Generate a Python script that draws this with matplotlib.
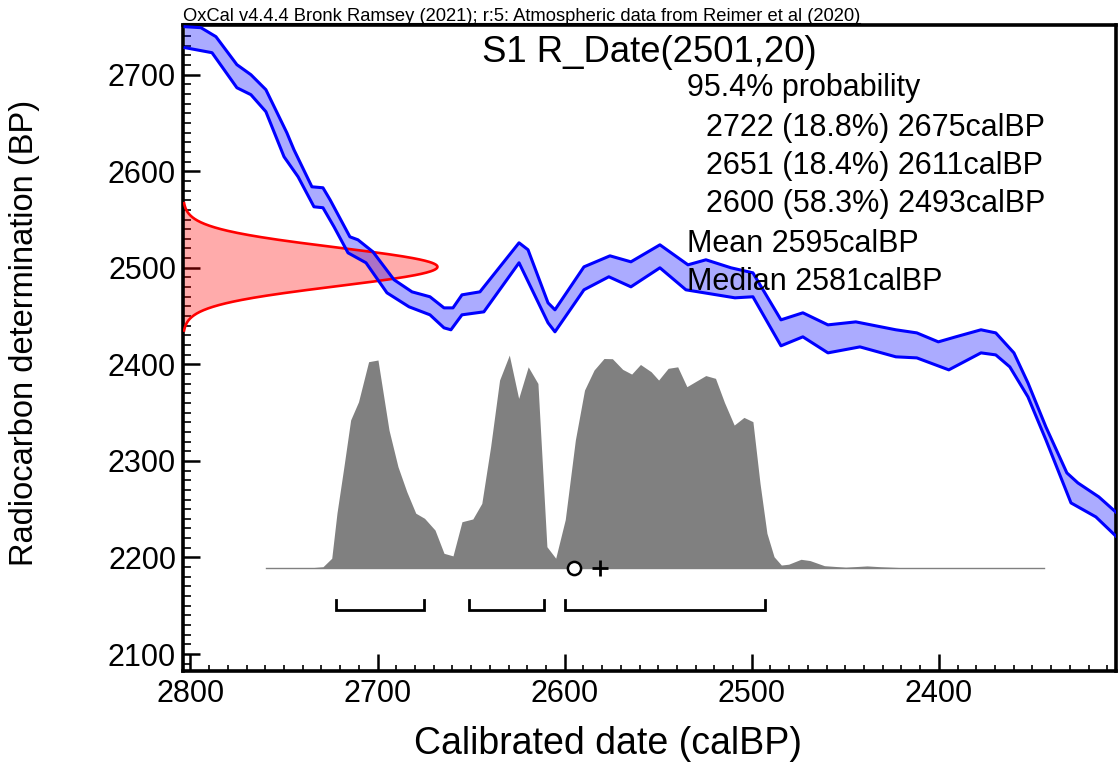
import numpy as np
import matplotlib
matplotlib.use("Agg")
import matplotlib.pyplot as plt
from matplotlib.lines import Line2D
from matplotlib.ticker import MultipleLocator

plt.rcParams['font.family'] = ['Liberation Sans', 'DejaVu Sans']

# calibration curve (IntCal20), upper and lower edges of the 1-sigma band
cal_upper_x = [2802.9, 2794.4, 2786.4, 2775.2, 2767.7, 2759.7, 2748.5, 2744.7, 2735.1, 2729.2,
               2725.4, 2714.8, 2710.5, 2702.5, 2691.2, 2681.6, 2672.0, 2664.5, 2659.7, 2654.9,
               2645.3, 2624.4, 2619.6, 2608.9, 2605.2, 2589.7, 2575.8, 2564.6, 2549.1, 2534.1,
               2524.5, 2511.1, 2499.4, 2484.4, 2472.7, 2459.3, 2444.4, 2423.0, 2411.8, 2400.3,
               2391.0, 2377.5, 2369.6, 2359.9, 2352.4, 2342.8, 2331.6, 2325.7, 2314.5, 2304.9]
cal_upper_y = [2749.7, 2748.7, 2739.4, 2710.4, 2700.0, 2684.5, 2639.9, 2622.3, 2583.9, 2582.9,
               2570.5, 2532.1, 2529.0, 2516.6, 2487.6, 2475.1, 2470.0, 2458.5, 2458.5, 2472.0,
               2475.1, 2525.9, 2518.7, 2463.7, 2456.5, 2501.0, 2512.4, 2506.2, 2523.8, 2503.1,
               2508.3, 2500.0, 2494.8, 2446.1, 2453.4, 2440.9, 2444.0, 2435.8, 2432.6, 2423.3,
               2428.5, 2435.8, 2432.6, 2411.9, 2380.8, 2335.2, 2287.6, 2277.2, 2262.7, 2246.1]
cal_lower_x = [2802.9, 2788.5, 2775.2, 2767.7, 2759.7, 2750.0, 2742.5, 2734.0, 2729.2, 2723.3,
               2715.8, 2706.2, 2695.0, 2683.2, 2672.0, 2664.5, 2660.8, 2654.9, 2643.2, 2624.4,
               2608.9, 2605.2, 2589.7, 2576.4, 2564.6, 2549.1, 2535.2, 2509.0, 2499.4, 2484.4,
               2472.7, 2459.3, 2442.2, 2423.0, 2411.8, 2394.7, 2377.5, 2369.6, 2362.1, 2352.4,
               2342.8, 2329.4, 2316.1, 2304.9]
cal_lower_y = [2728.0, 2722.8, 2686.5, 2679.3, 2661.7, 2615.0, 2594.3, 2563.2, 2562.2, 2542.5,
               2515.5, 2505.2, 2474.1, 2459.6, 2451.3, 2437.8, 2435.8, 2451.3, 2454.4, 2505.2,
               2443.0, 2433.7, 2477.2, 2490.7, 2480.3, 2500.0, 2477.2, 2468.9, 2470.0, 2419.2,
               2428.5, 2411.9, 2418.1, 2407.8, 2406.7, 2394.3, 2411.9, 2409.8, 2397.4, 2366.3,
               2321.8, 2256.5, 2242.0, 2221.2]

# calibrated probability distribution (relative)
post_x = [2759.8, 2738.8, 2729.2, 2724.5, 2721.7, 2718.0, 2714.4, 2710.2, 2704.8, 2699.8,
          2693.9, 2689.1, 2684.4, 2679.6, 2674.9, 2669.3, 2664.5, 2659.7, 2654.9, 2649.1,
          2644.3, 2639.6, 2634.8, 2629.6, 2624.6, 2619.5, 2614.3, 2609.5, 2604.8, 2599.7,
          2594.3, 2589.4, 2584.3, 2579.0, 2574.5, 2569.0, 2564.2, 2559.5, 2553.8, 2549.8,
          2544.7, 2539.6, 2534.7, 2524.6, 2519.4, 2514.6, 2509.4, 2504.2, 2499.4, 2495.6,
          2491.9, 2488.1, 2484.2, 2480.3, 2473.7, 2468.9, 2461.2, 2449.8, 2438.4, 2430.9,
          2411.7, 2343.8]
post_p = [0.000, 0.001, 0.008, 0.048, 0.260, 0.477, 0.696, 0.781, 0.969, 0.977,
          0.649, 0.477, 0.360, 0.259, 0.235, 0.180, 0.071, 0.059, 0.219, 0.232,
          0.305, 0.570, 0.883, 1.000, 0.797, 0.945, 0.867, 0.102, 0.048, 0.229,
          0.602, 0.836, 0.930, 0.984, 0.983, 0.933, 0.911, 0.956, 0.922, 0.883,
          0.938, 0.945, 0.852, 0.904, 0.891, 0.778, 0.672, 0.708, 0.688, 0.399,
          0.165, 0.055, 0.016, 0.020, 0.043, 0.037, 0.013, 0.006, 0.012, 0.008,
          0.001, 0.000]

# 95.4% ranges, mean and median
range_from = [2722, 2651, 2600]
range_to = [2675, 2611, 2493]
range_pct = [18.8, 18.4, 58.3]
mean_bp = 2595
median_bp = 2581

# radiocarbon measurement
c14_mean = 2501
c14_sd = 20

xmin, xmax = 2804, 2305.5
ymin, ymax = 2082.4, 2752

W, H = 1118, 771
fig = plt.figure(figsize=(W / 100, H / 100), dpi=100)
ax = fig.add_axes([183 / W, 1 - 671 / H, (1115.7 - 183) / W, (671 - 24.5) / H])
ax.set_xlim(xmin, xmax)
ax.set_ylim(ymin, ymax)

# measurement curve on the y axis
yy = np.linspace(c14_mean - 3.3 * c14_sd, c14_mean + 3.3 * c14_sd, 300)
dens = np.exp(-0.5 * ((yy - c14_mean) / c14_sd) ** 2)
red_w = 136
ax.fill_betweenx(yy, xmin, xmin - red_w * dens, color=(1, 0, 0), alpha=0.33, lw=0, zorder=2)
ax.plot(xmin - red_w * dens, yy, color='#ff0000', lw=1.9, zorder=3)

# calibration band
band_x = np.r_[cal_upper_x, cal_lower_x[::-1]]
band_y = np.r_[cal_upper_y, cal_lower_y[::-1]]
ax.fill(band_x, band_y, color=(0, 0, 1), alpha=0.33, lw=0, zorder=2)
ax.plot(cal_upper_x, cal_upper_y, color='#0000ff', lw=2.2, solid_joinstyle='round', zorder=3)
ax.plot(cal_lower_x, cal_lower_y, color='#0000ff', lw=2.2, solid_joinstyle='round', zorder=3)

# posterior
base = 2188.6
height = 221
px = np.array(post_x)
pp = np.array(post_p)
ax.fill_between(px, base, base + height * pp, color='#808080', lw=0, zorder=4)
ax.plot([post_x[0], post_x[-1]], [base, base], color='#808080', lw=1, zorder=4)

# range brackets
bar_y = 2145.6
tick_h = 10.5
for a, b in zip(range_from, range_to):
    ax.plot([a, a, b, b], [bar_y + tick_h, bar_y, bar_y, bar_y + tick_h],
            color='black', lw=2, solid_joinstyle='miter', zorder=5)

ax.plot([mean_bp], [base], marker='o', ms=9.5, mfc='white', mec='black', mew=1.8, zorder=6)
ax.plot([median_bp], [base], marker='+', ms=11, mec='black', mew=2, zorder=6)

# axes style
for s in ax.spines.values():
    s.set_linewidth(2.6)
ax.xaxis.set_major_locator(MultipleLocator(100))
ax.xaxis.set_minor_locator(MultipleLocator(10))
ax.yaxis.set_major_locator(MultipleLocator(100))
ax.yaxis.set_minor_locator(MultipleLocator(10))
ax.tick_params(which='both', direction='in', top=False, right=False, labelsize=22)
ax.tick_params(axis='x', which='major', length=12, width=1.8, pad=6)
ax.tick_params(axis='x', which='minor', length=4.5, width=1.2)
ax.tick_params(axis='y', which='major', length=12, width=1.8, pad=5)
ax.tick_params(axis='y', which='minor', length=5.5, width=1.2)

ax.set_xlabel('Calibrated date (calBP)', fontsize=27)
ax.xaxis.set_label_coords((607.5 - 183) / (1115.7 - 183), (671 - 726) / (671 - 24.5))
ax.set_ylabel('Radiocarbon determination (BP)', fontsize=23.5)
ax.yaxis.set_label_coords((40 - 183) / (1115.7 - 183), (671 - 332.5) / (671 - 24.5))

# text annotations
fig.text(649.5 / W, 1 - 52 / H, 'S1 R_Date(%d,%d)' % (c14_mean, c14_sd),
         fontsize=26.3, ha='center', va='center')
fig.text(687.5 / W, 1 - 88 / H, '95.4% probability', fontsize=22, va='center')
for i, yp in enumerate([128, 166, 204]):
    fig.text(706.4 / W, 1 - yp / H, '%d (%.1f%%) %dcalBP' % (range_from[i], range_pct[i], range_to[i]),
             fontsize=22, va='center')
fig.text(687.5 / W, 1 - 244 / H, 'Mean %dcalBP' % mean_bp, fontsize=22, va='center')
fig.text(687.5 / W, 1 - 282 / H, 'Median %dcalBP' % median_bp, fontsize=22, va='center')

hdr = fig.text(183 / W, 1 - 21 / H,
               'OxCal v4.4.4 Bronk Ramsey (2021); r:5: Atmospheric data from Reimer et al (2020)',
               fontsize=13.2, va='baseline')
fig.canvas.draw()
bb = hdr.get_window_extent()
fig.add_artist(Line2D([bb.x0 / W, bb.x1 / W], [1 - 22.5 / H, 1 - 22.5 / H],
                      transform=fig.transFigure, color='black', lw=0.8))

fig.savefig('out.png', dpi=100)
